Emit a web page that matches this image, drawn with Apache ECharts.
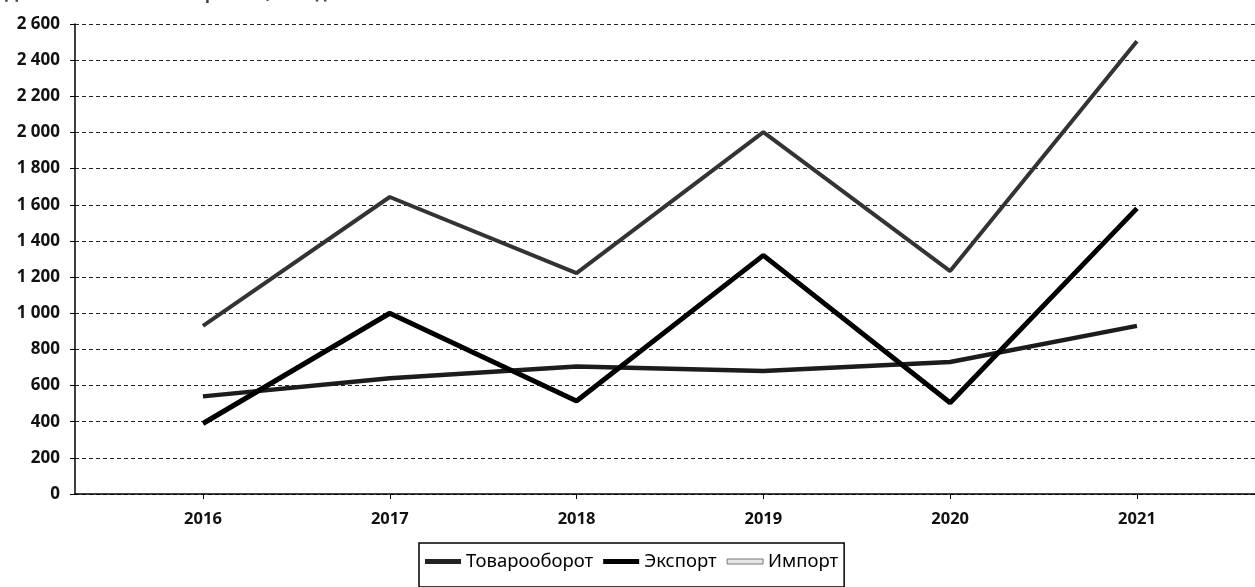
<!DOCTYPE html>
<html>
<head>
<meta charset="utf-8">
<script src="https://cdn.jsdelivr.net/npm/echarts@6/dist/echarts.min.js"></script>
<style>
html,body{margin:0;padding:0;background:#fff;}
#c{width:1255px;height:587px;}
</style>
</head>
<body>
<div id="c"></div>
<script>
const titleText = 'Динамика внешней торговли, млн долл.';
const years = [2016, 2017, 2018, 2019, 2020, 2021];
const tovarooborot = [930, 1643, 1222, 2002, 1233, 2505];
const eksport = [390, 1000, 515, 1320, 505, 1580];
const import_ = [540, 640, 705, 680, 730, 930];
const seriesNames = ['Товарооборот', 'Экспорт', 'Импорт'];

const pairs = arr => years.map((y, i) => [y, arr[i]]);
const fmt = v => String(v).replace(/\B(?=(\d{3})+(?!\d))/g, ' ');

const chart = echarts.init(document.getElementById('c'), null, {renderer: 'canvas'});

chart.setOption({
  animation: false,
  backgroundColor: '#fff',
  title: {
    text: titleText, left: 0, top: -19,
    textStyle: {fontFamily: 'Noto Sans', fontWeight: 'bold', fontSize: 17, color: '#444'}
  },
  grid: {left: 75, right: 0, top: 24, bottom: 93, containLabel: false},
  xAxis: {
    type: 'value',
    min: 2015.315,
    max: 2021.632,
    axisLine: {show: true, onZero: false, lineStyle: {color: '#000', width: 1.5}},
    splitLine: {show: false},
    axisTick: {show: true, customValues: years, length: 5, lineStyle: {color: '#000', width: 1}},
    axisLabel: {customValues: years, margin: 17, formatter: v => String(Math.round(v)),
      fontFamily: 'Noto Sans', fontWeight: 'bold', fontSize: 16.5, color: '#111'}
  },
  yAxis: {
    type: 'value',
    min: 0, max: 2600, interval: 200,
    axisLine: {show: true, lineStyle: {color: '#000', width: 1.5}},
    axisTick: {show: true, length: 5, lineStyle: {color: '#000'}},
    splitLine: {show: true, lineStyle: {color: '#222', width: 1, type: [4, 3]}},
    axisLabel: {margin: 15, formatter: v => fmt(v),
      fontFamily: 'Noto Sans', fontWeight: 'bold', fontSize: 17, color: '#111'}
  },
  legend: {
    left: 419, top: 543,
    padding: [9, 6, 16, 6],
    itemGap: 10,
    itemWidth: 36, itemHeight: 5,
    borderColor: '#000', borderWidth: 1.5, borderRadius: 0,
    textStyle: {fontFamily: 'Noto Sans', fontSize: 18.5, color: '#000'},
    data: [
      {name: seriesNames[0], icon: 'rect', itemStyle: {color: '#222'}},
      {name: seriesNames[1], icon: 'rect', itemStyle: {color: '#000'}},
      {name: seriesNames[2], icon: 'rect', itemStyle: {color: '#e6e6e6', borderColor: '#777', borderWidth: 1}}
    ]
  },
  series: [
    {name: seriesNames[0], type: 'line', data: pairs(tovarooborot), symbol: 'none',
     lineStyle: {color: '#333', width: 4}, itemStyle: {color: '#333'}, z: 3},
    {name: seriesNames[1], type: 'line', data: pairs(eksport), symbol: 'none',
     lineStyle: {color: '#000', width: 5}, itemStyle: {color: '#000'}, z: 4},
    {name: seriesNames[2], type: 'line', data: pairs(import_), symbol: 'none',
     lineStyle: {color: '#1c1c1c', width: 4.5}, itemStyle: {color: '#1c1c1c'}, z: 2}
  ]
});
</script>
</body>
</html>
